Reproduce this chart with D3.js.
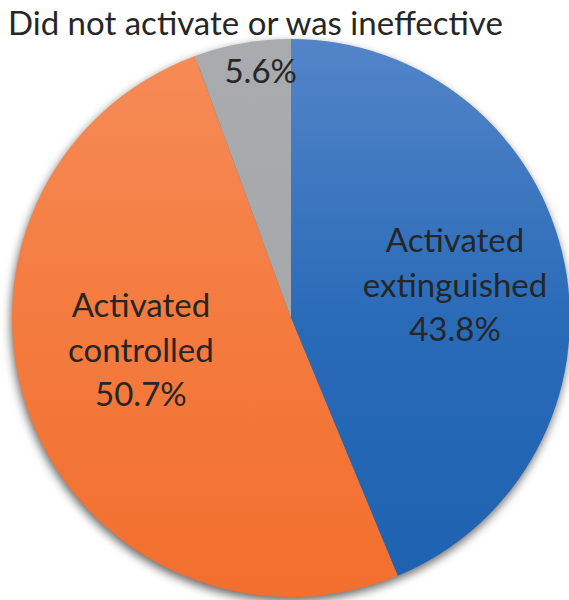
<!DOCTYPE html>
<html>
<head>
<meta charset="utf-8">
<script src="https://cdn.jsdelivr.net/npm/d3@7"></script>
<style>
  html, body { margin: 0; padding: 0; background: #fff; }
  svg { display: block; }
  text { font-family: Lato, "Open Sans", sans-serif; fill: #262626; }
</style>
</head>
<body>
<svg id="chart" width="569" height="600"></svg>
<script>
// ---- data ----
const categories = ["Activated extinguished", "Activated controlled", "Did not activate or was ineffective"];
const values = [43.8, 50.7, 5.6];
const labelLines = [["Activated", "extinguished", "43.8%"], ["Activated", "controlled", "50.7%"], ["5.6%"]];
const titleText = "Did not activate or was ineffective";

// ---- layout / style ----
const W = 569, H = 600;
const cx = 291, cy = 318, R = 279;
const colorsTop = ["#5385c8", "#f68c58", "#a9abae"];
const colorsMid = ["#2a6bb8", "#f47b3f", "#a6a8ab"];
const colorsBottom = ["#1c61b0", "#f26f2e", "#a3a5a8"];
// label placement: polar angle (deg, clockwise from top) and radius fraction
const labelPos = [{a: 78.5, r: 0.60}, {a: 258, r: 0.55}, {a: 353, r: 0.89}];
const fontSize = 33, lineH = 44.5;

const svg = d3.select("#chart");
const defs = svg.append("defs");

const f = defs.append("filter").attr("id", "shadow")
  .attr("color-interpolation-filters", "sRGB")
  .attr("x", "-20%").attr("y", "-20%").attr("width", "140%").attr("height", "140%");
f.append("feDropShadow").attr("dx", -1).attr("dy", 4).attr("stdDeviation", 5)
  .attr("flood-color", "#000").attr("flood-opacity", 0.6);

categories.forEach((c, i) => {
  const g = defs.append("linearGradient").attr("id", "grad" + i)
    .attr("gradientUnits", "userSpaceOnUse")
    .attr("x1", 0).attr("y1", -R).attr("x2", 0).attr("y2", R);
  g.append("stop").attr("offset", "0%").attr("stop-color", colorsTop[i]);
  g.append("stop").attr("offset", "50%").attr("stop-color", colorsMid[i]);
  g.append("stop").attr("offset", "100%").attr("stop-color", colorsBottom[i]);
});

const pie = d3.pie().value(d => d).sort(null);
const arcs = pie(values);
const arc = d3.arc().innerRadius(0).outerRadius(R);

const g = svg.append("g").attr("transform", `translate(${cx},${cy})`);
const slices = g.append("g").attr("filter", "url(#shadow)");
slices.selectAll("path").data(arcs).join("path")
  .attr("d", arc)
  .attr("fill", (d, i) => `url(#grad${i})`);

// labels
arcs.forEach((d, i) => {
  const p = labelPos[i];
  const ang = p.a * Math.PI / 180;
  const x = Math.sin(ang) * R * p.r;
  const y = -Math.cos(ang) * R * p.r;
  const lines = labelLines[i];
  const t = g.append("text")
    .attr("text-anchor", "middle")
    .attr("font-size", fontSize);
  const n = lines.length;
  lines.forEach((ln, k) => {
    t.append("tspan").attr("x", x)
      .attr("y", y + (k - (n - 1) / 2) * lineH + fontSize * 0.36)
      .text(ln);
  });
});

// title (label of the small slice, outside)
svg.append("text")
  .attr("x", 8).attr("y", 35)
  .attr("font-size", fontSize)
  .text(titleText);
</script>
</body>
</html>
